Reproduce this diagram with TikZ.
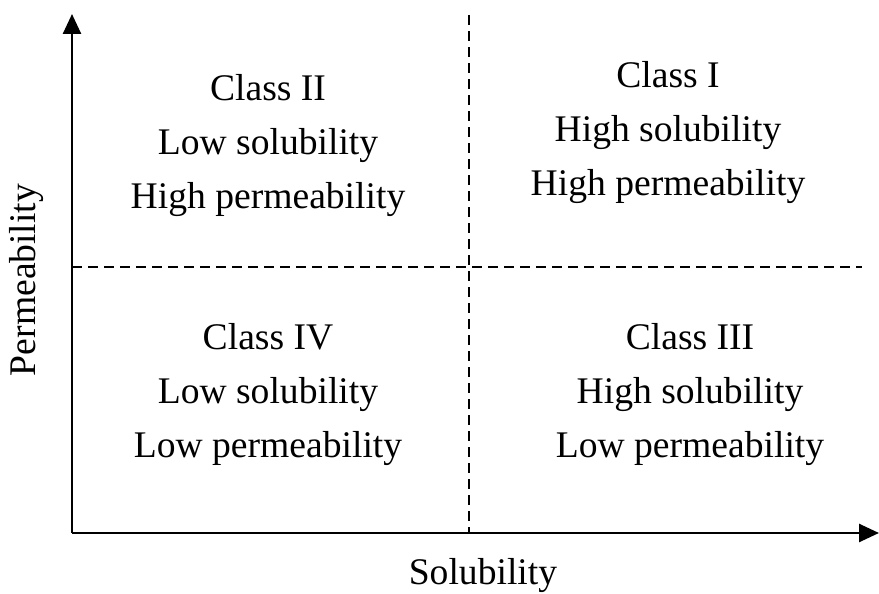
\documentclass[tikz,border=0pt]{standalone}
\usepackage{fontspec}
\setmainfont{Liberation Serif}
\usetikzlibrary{arrows.meta}
\begin{document}
\begin{tikzpicture}[x=1pt,y=1pt,
  axis/.style={line width=2.6pt,-{Triangle[length=20pt,width=18pt]}},
  divider/.style={line width=2pt,dash pattern=on 10pt off 6pt},
  classtext/.style={align=center,font=\fontsize{37.6}{54}\selectfont,inner sep=0pt},
  axislabel/.style={font=\fontsize{37.6}{45}\selectfont,inner sep=0pt}]
\useasboundingbox (0,0) rectangle (879,594);
\coordinate (O) at (72,61);
\coordinate (ytip) at (72,580);
\coordinate (xtip) at (879,61);
\coordinate (vtop) at (469,579);
\coordinate (vbot) at (469,61);
\coordinate (hleft) at (72,327);
\coordinate (hright) at (862,327);
\draw[divider] (vtop) -- (vbot);
\draw[divider] (hleft) -- (hright);
\draw[axis] (O) -- (ytip);
\draw[axis] (O) -- (xtip);
\node[classtext] (c2) at (268,448) {Class II\\Low solubility\\High permeability};
\node[classtext] (c1) at (668,461) {Class I\\High solubility\\High permeability};
\node[classtext] (c4) at (268,199) {Class IV\\Low solubility\\Low permeability};
\node[classtext] (c3) at (690,199) {Class III\\High solubility\\Low permeability};
\node[axislabel] (xl) at (483,18) {Solubility};
\node[axislabel,rotate=90] (yl) at (27,314) {Permeability};
\end{tikzpicture}
\end{document}
